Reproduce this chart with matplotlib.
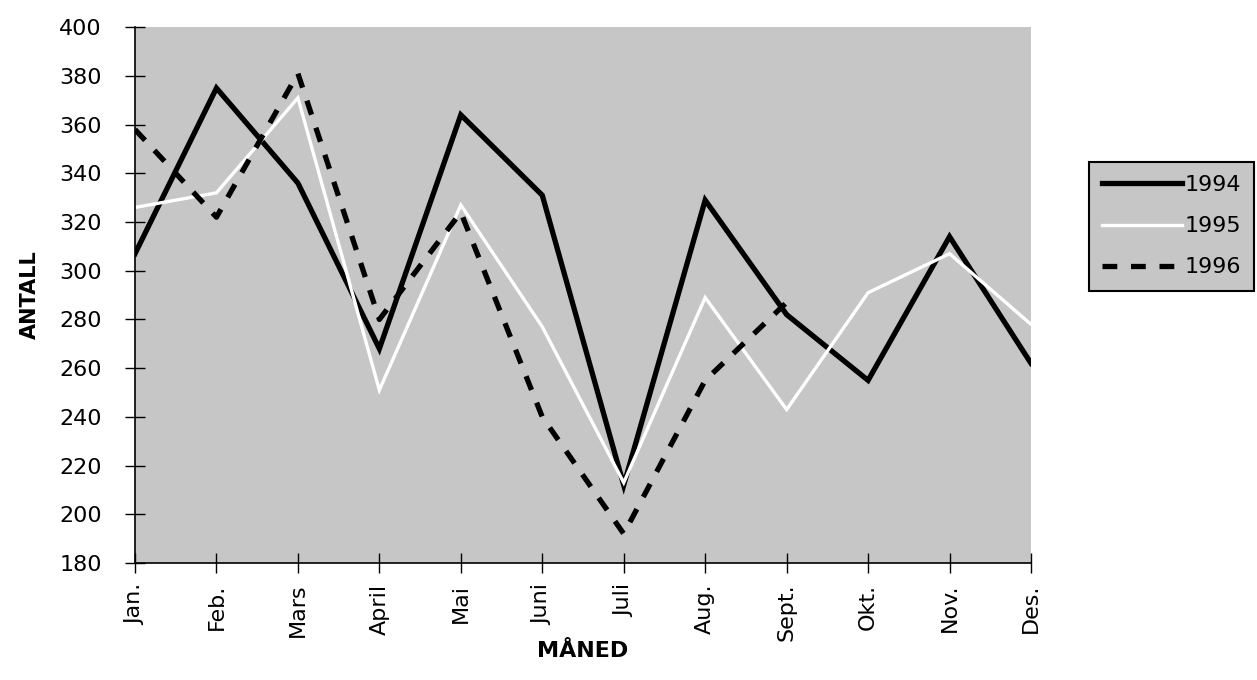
import matplotlib.pyplot as plt
import numpy as np

months = ['Jan.', 'Feb.', 'Mars', 'April', 'Mai', 'Juni', 'Juli',
          'Aug.', 'Sept.', 'Okt.', 'Nov.', 'Des.']
y1994 = [307, 375, 336, 268, 364, 331, 212, 329, 282, 255, 314, 262]
y1995 = [326, 332, 371, 251, 327, 277, 213, 289, 243, 291, 307, 278]
y1996 = [358, 322, 381, 280, 324, 240, 192, 255, 287]

bg = '#c6c6c6'

fig = plt.figure(figsize=(12.57, 6.8), dpi=100)
ax = fig.add_axes([0.1074, 0.172, 0.7128, 0.788])
ax.set_facecolor(bg)

x = np.arange(len(months))
ax.plot(x, y1994, color='black', lw=3.8, label='1994', solid_joinstyle='miter')
ax.plot(x, y1995, color='white', lw=2.4, label='1995', solid_joinstyle='miter')
ax.plot(x[:len(y1996)], y1996, color='black', lw=3.8, ls=(0, (2.8, 2.6)),
        label='1996', dash_capstyle='butt')

ax.set_xlim(0, 11)
ax.set_ylim(180, 400)
ax.set_yticks(np.arange(180, 401, 20))
ax.set_xticks(x)
ax.set_xticklabels(months, rotation=90)
ax.tick_params(direction='inout', length=14, width=1, labelsize=16)
ax.tick_params(axis='y', pad=17)
ax.tick_params(axis='x', pad=8)
for s in ['top', 'right']:
    ax.spines[s].set_visible(False)
ax.spines['left'].set_linewidth(1.2)
ax.spines['bottom'].set_linewidth(1.2)

ax.set_ylabel('ANTALL', fontsize=15, fontweight='bold', labelpad=14)
ax.set_xlabel('MÅNED', fontsize=16, fontweight='bold', labelpad=0)

leg = fig.legend(loc='upper right', bbox_to_anchor=(0.998, 0.762),
                 fontsize=16, handlelength=3.6, handletextpad=0.1,
                 labelspacing=0.95, fancybox=False, edgecolor='black',
                 facecolor=bg, framealpha=1, borderaxespad=0,
                 borderpad=0.6)
leg.get_frame().set_linewidth(1.5)

fig.savefig('out.png', dpi=100)
